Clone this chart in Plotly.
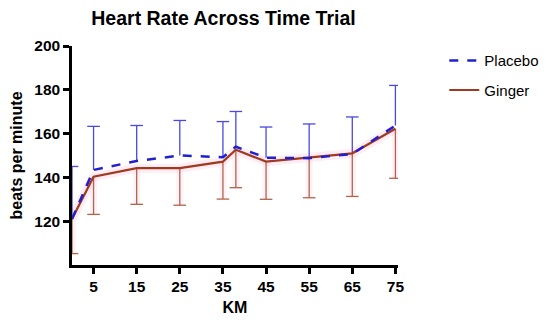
import plotly.graph_objects as go

km = [0, 5, 15, 25, 35, 38, 45, 55, 65, 75]
placebo = [121, 143.4, 147.5, 150, 149.2, 154, 149, 148.8, 150.7, 163.7]
placebo_sd = [24, 19.9, 16.2, 16, 16.3, 16.1, 14, 15.6, 16.9, 18.3]
ginger = [121, 140.3, 144.2, 144.2, 147.2, 152.6, 147.2, 149, 151, 162.2]
ginger_sd = [15.8, 17.2, 16.5, 16.9, 17.1, 17.3, 17.2, 18.3, 19.7, 22.6]
x_ticks = [5, 15, 25, 35, 45, 55, 65, 75]
y_ticks = [120, 140, 160, 180, 200]

BLUE_LINE = "#2020d0"
BLUE_ERR = "#4848e6"
RED_LINE = "#a03a1e"
RED_ERR = "#b0644a"
FONT = "Liberation Sans, Arial"

# page has an 8px body margin, so the figure is sized to the visible area
W, H = 542, 315
ML, MR = 64, 152

fig = go.Figure()

def bar_segments(xs, ys, errs, sign):
    bx, by, tx, ty = [], [], [], []
    for x, y, e in zip(xs, ys, errs):
        end = y + sign * e
        bx += [x, x, None]
        by += [y, end, None]
        tx.append(x)
        ty.append(end)
    return bx, by, tx, ty

# Ginger pink glow
fig.add_trace(go.Scatter(x=km, y=ginger, mode="lines",
                         line=dict(color="rgba(255,200,225,0.35)", width=9),
                         showlegend=False, hoverinfo="skip"))
gbx, gby, _, _ = bar_segments(km, ginger, ginger_sd, -1)
fig.add_trace(go.Scatter(x=gbx, y=gby, mode="lines",
                         line=dict(color="rgba(255,200,225,0.25)", width=7),
                         showlegend=False, hoverinfo="skip"))

# Error bars
for ys, errs, sign, col in [(placebo, placebo_sd, 1, BLUE_ERR), (ginger, ginger_sd, -1, RED_ERR)]:
    bx, by, tx, ty = bar_segments(km, ys, errs, sign)
    fig.add_trace(go.Scatter(x=bx, y=by, mode="lines", line=dict(color=col, width=1.3),
                             showlegend=False, hoverinfo="skip"))
    fig.add_trace(go.Scatter(x=tx, y=ty, mode="markers",
                             marker=dict(symbol="line-ew-open", size=9, color=col,
                                         line=dict(color=col, width=1.3)),
                             showlegend=False, hoverinfo="skip"))

fig.add_trace(go.Scatter(x=km, y=ginger, mode="lines", name="Ginger", legendgroup="g",
                         legendrank=2, line=dict(color=RED_LINE, width=2.2)))
fig.add_trace(go.Scatter(x=km, y=placebo, mode="lines", name="Placebo", legendgroup="p",
                         legendrank=1, line=dict(color=BLUE_LINE, width=2.5, dash="dash")))

axis_common = dict(showline=True, linecolor="black", linewidth=2.5, ticks="outside",
                   tickwidth=2.5, ticklen=6, tickcolor="black", showgrid=False, zeroline=False,
                   automargin=True,
                   tickfont=dict(family=FONT, size=15.5, color="black", weight="bold"))

fig.update_layout(
    width=W, height=H,
    paper_bgcolor="white", plot_bgcolor="white",
    margin=dict(l=ML, r=MR, t=38, b=58, autoexpand=False),
    title=dict(text="<b>Heart Rate Across Time Trial</b>", x=215.5 / W, xanchor="center",
               y=1 - 10 / H, yanchor="middle",
               font=dict(family=FONT, size=19.5, color="black")),
    xaxis=dict(range=[0, 75.6], tickvals=x_ticks,
               title=dict(text="<b>KM</b>", standoff=8,
                          font=dict(family=FONT, size=16, color="black")),
               **axis_common),
    yaxis=dict(range=[100, 200], tickvals=y_ticks,
               title=dict(text="<b>beats per minute</b>", standoff=11,
                          font=dict(family=FONT, size=16, color="black")),
               **axis_common),
    legend=dict(x=1.142, y=1.008, xanchor="left", yanchor="top",
                traceorder="grouped",
                font=dict(family=FONT, size=15, color="black"),
                bgcolor="rgba(0,0,0,0)", tracegroupgap=7, itemwidth=30, borderwidth=0),
    showlegend=True,
)

fig.write_html("out.html")
